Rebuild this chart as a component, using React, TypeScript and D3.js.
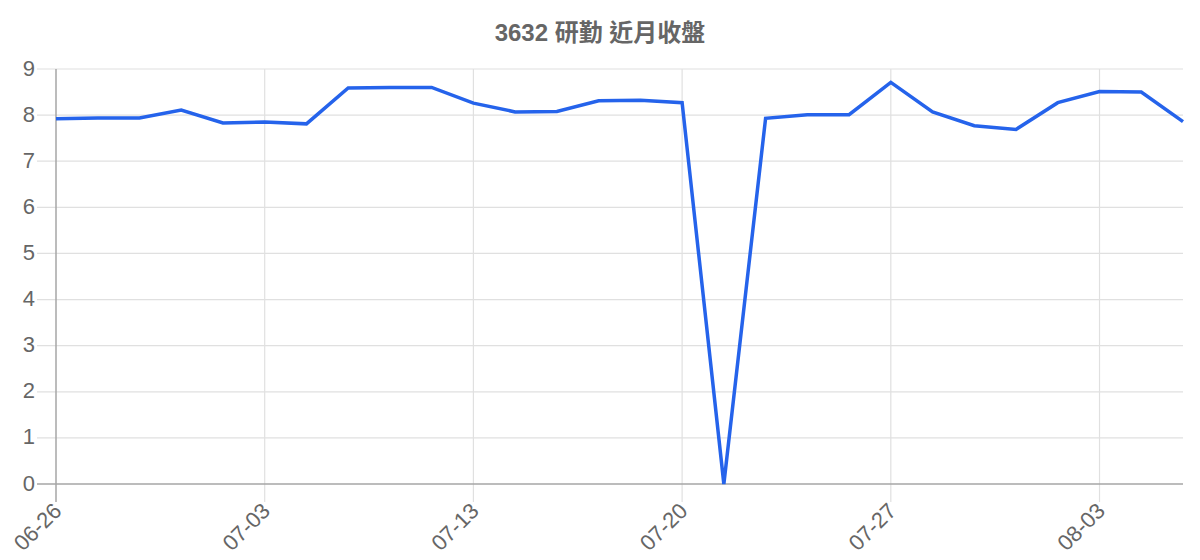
import React, { useEffect, useRef } from "react";
import * as d3 from "d3";

const dates = [
  "06-26", "06-29", "06-30", "07-01", "07-02", "07-03", "07-06", "07-07", "07-08", "07-09",
  "07-13", "07-14", "07-15", "07-16", "07-17", "07-20", "07-21", "07-22", "07-23", "07-24",
  "07-27", "07-28", "07-29", "07-30", "07-31", "08-03", "08-04", "08-05",
];
const closes = [
  7.92, 7.94, 7.94, 8.11, 7.83, 7.85, 7.81, 8.59, 8.6, 8.6,
  8.26, 8.07, 8.08, 8.31, 8.32, 8.27, 0, 7.93, 8.01, 8.01,
  8.71, 8.07, 7.77, 7.69, 8.27, 8.51, 8.5, 7.86,
];
const yTicks = [0, 1, 2, 3, 4, 5, 6, 7, 8, 9];
const title = "3632 研勤 近月收盤";

const W = 1200;
const H = 560;
const M = { left: 56, right: 17, top: 69, bottom: 76 };
const FONT = "Arial, 'Liberation Sans', 'Noto Sans CJK TC', sans-serif";

export default function App() {
  const ref = useRef<SVGSVGElement | null>(null);

  useEffect(() => {
    const svg = d3.select(ref.current);
    svg.selectAll("*").remove();

    const x = d3.scalePoint<string>().domain(dates).range([M.left, W - M.right]);
    const y = d3.scaleLinear().domain([0, 9]).range([H - M.bottom, M.top]);
    const x0 = M.left;
    const x1 = W - M.right;
    const y0 = H - M.bottom;

    svg
      .append("text")
      .attr("x", 600)
      .attr("y", 35)
      .attr("text-anchor", "middle")
      .attr("dominant-baseline", "middle")
      .attr("font-family", FONT)
      .attr("font-size", 24)
      .attr("font-weight", "bold")
      .attr("fill", "#666")
      .text(title);

    const gy = svg.append("g");
    yTicks.forEach((t) => {
      if (t !== 0) {
        gy.append("line")
          .attr("x1", 37)
          .attr("x2", x1)
          .attr("y1", y(t))
          .attr("y2", y(t))
          .attr("stroke", "#e0e0e0")
          .attr("stroke-width", 1.2);
      }
      gy.append("text")
        .attr("x", 35)
        .attr("y", y(t) - 1)
        .attr("text-anchor", "end")
        .attr("dominant-baseline", "central")
        .attr("font-family", FONT)
        .attr("font-size", 22)
        .attr("fill", "#666")
        .text(String(t));
    });

    const gx = svg.append("g");
    dates.forEach((d, i) => {
      if (i % 5 !== 0) return;
      const px = x(d) as number;
      if (i !== 0) {
        gx.append("line")
          .attr("x1", px)
          .attr("x2", px)
          .attr("y1", M.top)
          .attr("y2", 502)
          .attr("stroke", "#e0e0e0")
          .attr("stroke-width", 1.2);
      }
      gx.append("text")
        .attr("transform", `translate(${px + 1.5},${507}) rotate(-45)`)
        .attr("text-anchor", "end")
        .attr("dominant-baseline", "central")
        .attr("font-family", FONT)
        .attr("font-size", 22)
        .attr("fill", "#666")
        .text(d);
    });

    svg.append("line")
      .attr("x1", 37).attr("x2", x1).attr("y1", y0).attr("y2", y0)
      .attr("stroke", "#a6a6a6").attr("stroke-width", 1.5);
    svg.append("line")
      .attr("x1", x0).attr("x2", x0).attr("y1", M.top).attr("y2", 502)
      .attr("stroke", "#a6a6a6").attr("stroke-width", 1.5);

    const line = d3
      .line<number>()
      .x((_, i) => x(dates[i]) as number)
      .y((v) => y(v));

    svg.append("path")
      .datum(closes)
      .attr("d", line)
      .attr("fill", "none")
      .attr("stroke", "#2563eb")
      .attr("stroke-width", 3.5)
      .attr("stroke-linejoin", "miter");
  }, []);

  return (
    <svg
      ref={ref}
      width={W}
      height={H}
      style={{ position: "absolute", left: 0, top: 0, display: "block", background: "#fff" }}
    />
  );
}
